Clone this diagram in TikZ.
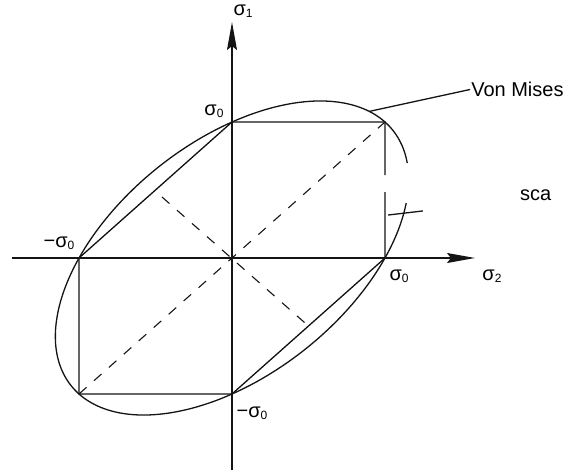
\documentclass[tikz,border=0pt]{standalone}
\usepackage{fontspec}
\setmainfont{Liberation Sans}
\usepackage{tikz}
\usetikzlibrary{arrows.meta}
\definecolor{mydark}{RGB}{20,20,20}
\tikzset{
  axis/.style={line width=1.3pt, color=mydark, -{Stealth[length=28pt, width=10pt, inset=4pt]}},
  line/.style={line width=1.3pt, color=mydark},
  dashline/.style={line width=1.1pt, color=mydark, dash pattern=on 10pt off 10pt},
  lbl/.style={font=\fontsize{20}{24}\selectfont, inner sep=1pt}
}
\newcommand{\sigsub}[1]{σ\raisebox{-2pt}{\fontsize{12}{14}\selectfont #1}}

\begin{document}
\begin{tikzpicture}[x=153pt, y=136pt]
  \useasboundingbox (-232pt,-214pt) rectangle (341pt,258pt);

  % Yield points
  \coordinate (O) at (0,0);
  \coordinate (A) at (1,0);
  \coordinate (B) at (1,1);
  \coordinate (C) at (0,1);
  \coordinate (D) at (-1,0);
  \coordinate (E) at (-1,-1);
  \coordinate (F) at (0,-1);

  % Axes
  \coordinate (xs) at (-1.438,0);
  \coordinate (xe) at (1.588,0);
  \coordinate (ys) at (0,-1.56);
  \coordinate (ye) at (0,1.735);
  \draw[axis] (xs) -- (xe);
  \draw[axis] (ys) -- (ye);

  % Tresca hexagon
  \coordinate (gt) at (1,0.610);
  \coordinate (gb) at (1,0.485);
  \draw[line] (D) -- (C) -- (B) -- (gt);
  \draw[line] (gb) -- (A) -- (F) -- (E) -- (D);

  % Von Mises ellipse
  \draw[line] plot[domain=39.5:382.8, samples=120, smooth, variable=\t]
    ({cos(\t)+sin(\t)/sqrt(3)}, {cos(\t)-sin(\t)/sqrt(3)});

  % Dashed guides
  \coordinate (p1) at (-0.458,0.449);
  \coordinate (p2) at (0.5,-0.5);
  \draw[dashline] (E) -- (B);
  \draw[dashline] (p1) -- (p2);

  % Axis and point labels
  \node[lbl] (s1) at (0.072,1.816) {\sigsub{1}};
  \node[lbl] (s2) at (1.699,-0.132) {\sigsub{2}};
  \node[lbl] (c0) at (-0.118,1.081) {\sigsub{0}};
  \node[lbl] (a0) at (1.092,-0.132) {\sigsub{0}};
  \node[lbl] (d0) at (-1.131,0.110) {−\sigsub{0}};
  \node[lbl] (f0) at (0.131,-1.140) {−\sigsub{0}};

  % Criterion labels
  \node[lbl, anchor=west] (vmlbl) at (1.556,1.239) {Von Mises};
  \coordinate (vm) at ({cos(-9)+sin(-9)/sqrt(3)},{cos(-9)-sin(-9)/sqrt(3)});
  \draw[line] (vm) -- (vmlbl.west);
  \node[lbl, anchor=west] (trlbl) at (1.876,0.463) {sca};
  \coordinate (tr1) at (1.020,0.316);
  \coordinate (tr2) at (1.248,0.346);
  \draw[line] (tr1) -- (tr2);
\end{tikzpicture}
\end{document}
